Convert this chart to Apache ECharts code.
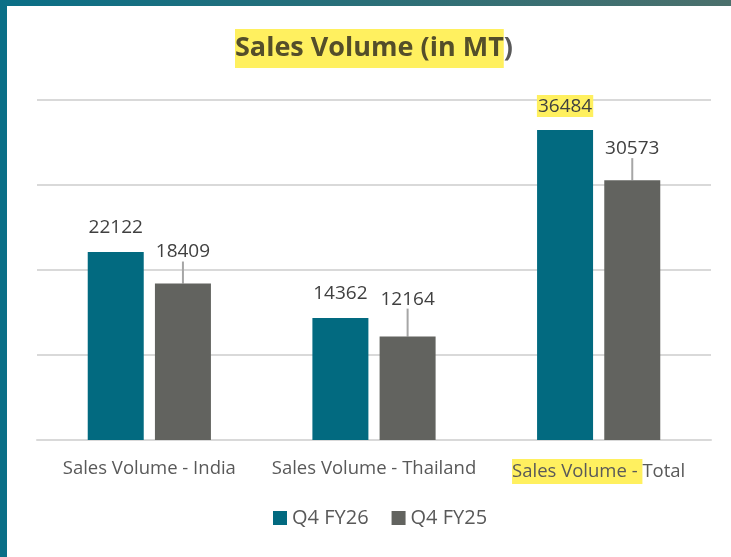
<!DOCTYPE html>
<html lang="en">
<head>
  <meta charset="utf-8" />
  <script src="https://cdn.jsdelivr.net/npm/echarts@6/dist/echarts.min.js"></script>
</head>
<body style="margin: 0; width: 731px; height: 557px; position: relative; overflow: hidden;
  background: linear-gradient(90deg, #0a6f87 0%, #2a6f78 50%, #4b706c 100%);">
  <div style="position: absolute; left: 0; top: 6px; width: 7px; height: 551px; background: #0a6f87"></div>
  <div id="container" style="position: absolute; left: 7px; top: 6px; width: 724px; height: 551px; background: #fff"></div>

  <script type="text/javascript">
    var categories = ["Sales Volume - India", "Sales Volume - Thailand", "Sales Volume - Total"];
    var fy26 = [22122, 14362, 36484];
    var fy25 = [18409, 12164, 30573];

    var font = "'Open Sans', 'Noto Sans', sans-serif";
    var dom = document.getElementById("container");
    var myChart = echarts.init(dom, null, { renderer: "canvas" });

    var option = {
      textStyle: { fontFamily: font },
      title: {
        text: "{hl|Sales Volume (in MT}{n|)}",
        left: 223,
        top: 18,
        textStyle: {
          rich: {
            hl: {
              fontFamily: font, fontSize: 27, fontWeight: "bold", color: "#544e2a",
              backgroundColor: "#fff05f", padding: [6, 0, 6, 0]
            },
            n: { fontFamily: font, fontSize: 27, fontWeight: "bold", color: "#595959", padding: [6, 0, 6, 0] }
          }
        }
      },
      legend: {
        bottom: 24,
        left: 261,
        itemWidth: 14,
        itemHeight: 14,
        itemGap: 23,
        icon: "rect",
        textStyle: { fontSize: 20, color: "#595959", fontFamily: font },
        data: ["Q4 FY26", "Q4 FY25"]
      },
      grid: { left: 30, right: 20, top: 94, bottom: 117 },
      xAxis: {
        type: "category",
        data: categories,
        axisLine: { lineStyle: { color: "#d9d9d9", width: 2 } },
        axisTick: { show: false },
        axisLabel: {
          interval: 0,
          margin: 19,
          fontSize: 18.5,
          color: "#595959",
          fontFamily: font,
          formatter: function (v) {
            if (v === "Sales Volume - Total") return "{hl|Sales Volume - }{n|Total}";
            return v;
          },
          rich: {
            hl: { fontSize: 18.5, color: "#595959", fontFamily: font, backgroundColor: "#fff05f", padding: [3, 0, 3, 0] },
            n: { fontSize: 18.5, color: "#595959", fontFamily: font, padding: [3, 0, 3, 0] }
          }
        }
      },
      yAxis: {
        type: "value",
        min: 0,
        max: 40000,
        interval: 10000,
        axisLabel: { show: false },
        axisLine: { show: false },
        axisTick: { show: false },
        splitLine: { lineStyle: { color: "#d9d9d9", width: 2 } }
      },
      series: [
        {
          name: "Q4 FY26",
          type: "bar",
          data: fy26.map(function (v, i) {
            var d = { value: v };
            if (i === 2) d.label = { backgroundColor: "#fff05f", padding: [2, 1, 1, 1], distance: 13 };
            return d;
          }),
          barWidth: 56,
          barGap: "20%",
          itemStyle: { color: "#026a80" },
          label: {
            show: true, position: "top", distance: 15,
            fontSize: 19, color: "#404040", fontFamily: font
          }
        },
        {
          name: "Q4 FY25",
          type: "bar",
          data: fy25,
          barWidth: 56,
          itemStyle: { color: "#62635f" },
          label: {
            show: true, position: "top", distance: 5,
            fontSize: 19, color: "#404040", fontFamily: font
          },
          labelLayout: function (params) {
            return { dy: params.dataIndex === 1 ? -23 : -17 };
          },
          labelLine: { show: true, lineStyle: { color: "#a6a6a6", width: 2 } }
        }
      ]
    };

    myChart.setOption(option);
    window.addEventListener("resize", myChart.resize);
  </script>
</body>
</html>
